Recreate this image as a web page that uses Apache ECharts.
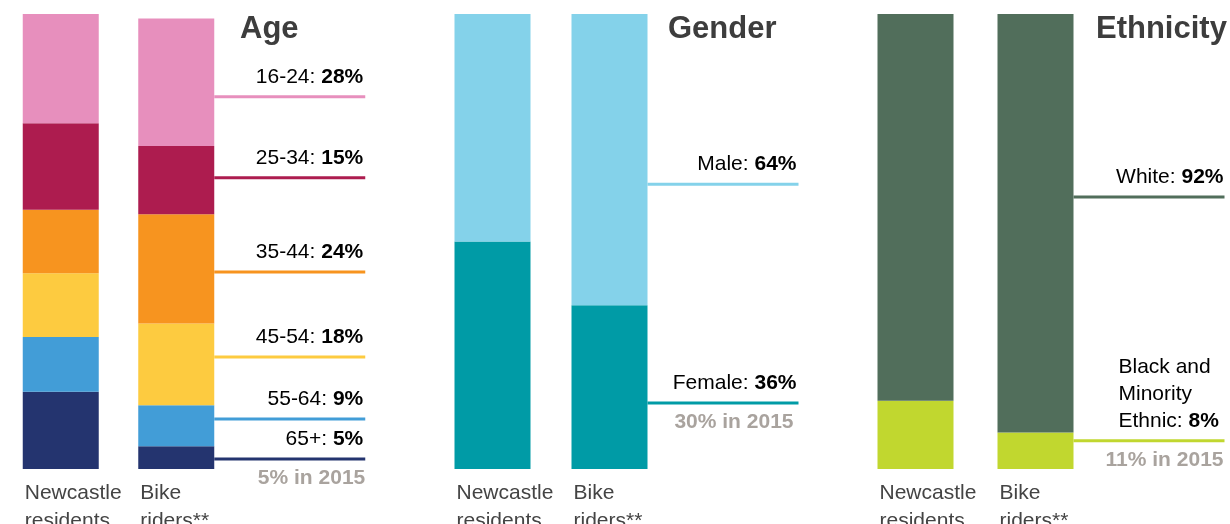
<!DOCTYPE html>
<html>
<head>
<meta charset="utf-8">
<script src="https://cdn.jsdelivr.net/npm/echarts@6/dist/echarts.min.js"></script>
<style>
html, body { margin: 0; padding: 0; background: #fff; }
#chart { width: 1230px; height: 524px; }
</style>
</head>
<body>
<div id="chart"></div>
<script>
// every list runs bottom-up, the way the segments stack
const columns = ['Newcastle residents', 'Bike riders**'];

const ageGroups = ['65+', '55-64', '45-54', '35-44', '25-34', '16-24'];
const ageResidents = [17, 12, 14, 14, 19, 24];
const ageRiders = [5, 9, 18, 24, 15, 28];
const age2015 = [5, null, null, null, null, null];

const genderGroups = ['Female', 'Male'];
const genderResidents = [50, 50];
const genderRiders = [36, 64];
const gender2015 = [30, null];

const ethnicityGroups = ['Black and Minority Ethnic', 'White'];
const ethnicityResidents = [15, 85];
const ethnicityRiders = [8, 92];
const ethnicity2015 = [11, null];

const FONT = "'Liberation Sans', Arial, Helvetica, sans-serif";
const TEXT = '#444444';
const STRONG = '#3a3a3a';
const MUTED = '#a9a39e';
const BAR_W = 76;
const LEADER_LEN = 151;

const panels = [
    {
        title: 'Age', groups: ageGroups, residents: ageResidents, riders: ageRiders, past: age2015,
        colors: ['#24346f', '#429dd7', '#fdcb40', '#f7941f', '#ad1c4f', '#e78fbd'],
        grid: { left: 3, width: 231 }, titleLeft: 240,
        // where the leader lines sit, in axis units
        leaderAt: [2.2, 11, 24.6, 43.3, 64, 81.8],
        textShift: -2, pastShift: 0
    },
    {
        title: 'Gender', groups: genderGroups, residents: genderResidents, riders: genderRiders, past: gender2015,
        colors: ['#009ba6', '#84d2ea'],
        grid: { left: 434, width: 234 }, titleLeft: 668,
        leaderAt: [14.5, 62.6],
        textShift: -2, pastShift: -5
    },
    {
        title: 'Ethnicity', groups: ethnicityGroups, residents: ethnicityResidents, riders: ethnicityRiders, past: ethnicity2015,
        colors: ['#c1d72f', '#516e5b'],
        grid: { left: 855.5, width: 240 }, titleLeft: 1096,
        leaderAt: [6.2, 59.8],
        textShift: -1, pastShift: -1,
        wrap: { 'Black and Minority Ethnic': 'Black and\nMinority\nEthnic' }
    }
];

const rich = {
    n: { fontSize: 21, fontFamily: FONT, color: TEXT, lineHeight: 27 },
    b: { fontSize: 21, fontFamily: FONT, color: STRONG, fontWeight: 'bold', lineHeight: 27 }
};

const option = {
    animation: false,
    backgroundColor: '#fff',
    title: [], grid: [], xAxis: [], yAxis: [], series: []
};

panels.forEach((p, i) => {
    option.title.push({
        text: p.title, left: p.titleLeft, top: 14, padding: 0,
        textStyle: { fontSize: 31, fontWeight: 'bold', color: '#3d3d3d', fontFamily: FONT }
    });
    option.grid.push({ left: p.grid.left, width: p.grid.width, top: 14, bottom: 55 });
    option.xAxis.push({ type: 'category', gridIndex: i, data: columns, show: false });
    option.yAxis.push({ type: 'value', gridIndex: i, min: 0, max: 100, show: false });

    p.groups.forEach((g, k) => {
        option.series.push({
            type: 'bar', name: g, xAxisIndex: i, yAxisIndex: i,
            stack: 'panel' + i, barWidth: BAR_W,
            data: [p.residents[k], p.riders[k]],
            itemStyle: { color: p.colors[k] },
            label: k === 0 ? {
                show: true, position: [0, '100%'], offset: [2, 10.5],
                align: 'left', verticalAlign: 'top',
                formatter: (q) => q.name.replace(' ', '\n'),
                fontSize: 21, lineHeight: 28, color: TEXT, fontFamily: FONT
            } : { show: false }
        });
    });

    option.series.push({
        type: 'custom', xAxisIndex: i, yAxisIndex: i, silent: true, z: 5,
        data: p.groups.map((g, k) => [1, p.leaderAt[k], k]),
        renderItem: (params, api) => {
            const k = api.value(2);
            const pt = api.coord([api.value(0), api.value(1)]);
            const x0 = pt[0] + BAR_W / 2;
            const x1 = x0 + LEADER_LEN;
            const y = pt[1];
            const name = (p.wrap && p.wrap[p.groups[k]]) || p.groups[k];
            const lines = name.split('\n');
            const last = lines.pop();
            const text = lines.map(l => '{n|' + l + '}')
                .concat('{n|' + last + ': }{b|' + p.riders[k] + '%}').join('\n');
            const wrapped = lines.length > 0;
            const children = [
                {
                    type: 'line',
                    shape: { x1: x0, y1: y, x2: x1, y2: y },
                    style: { stroke: p.colors[k], lineWidth: 3 }
                },
                {
                    type: 'text',
                    style: {
                        text: text, rich: rich,
                        x: wrapped ? x1 - 106 : x1 + p.textShift, y: y - 6.5,
                        align: wrapped ? 'left' : 'right', verticalAlign: 'bottom'
                    }
                }
            ];
            if (p.past[k] != null) {
                children.push({
                    type: 'text',
                    style: {
                        text: p.past[k] + '% in 2015',
                        x: x1 + p.pastShift, y: y + 19,
                        align: 'right', verticalAlign: 'middle',
                        fontSize: 21, fontWeight: 'bold', fontFamily: FONT, fill: MUTED
                    }
                });
            }
            return { type: 'group', children: children };
        }
    });
});

const chart = echarts.init(document.getElementById('chart'));
chart.setOption(option);
</script>
</body>
</html>
